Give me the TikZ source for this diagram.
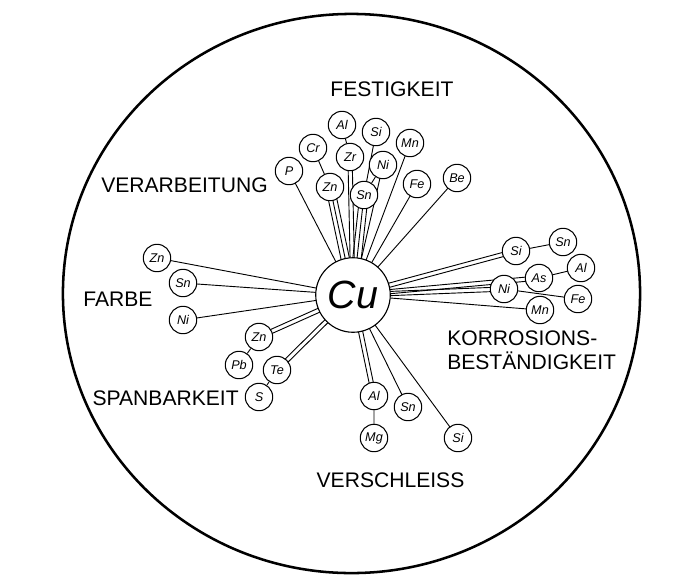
\documentclass[tikz,border=0pt]{standalone}
\usepackage{fontspec}
\setmainfont{Liberation Sans}
\usetikzlibrary{calc,backgrounds}

\begin{document}
\begin{tikzpicture}[x=0.025cm, y=-0.025cm,
		elem/.style={circle, draw, fill=white, line width=0.75pt, inner sep=0pt, minimum size=19.5pt, font=\fontsize{9}{10}\selectfont\itshape},
		kern/.style={circle, draw, fill=white, line width=0.8pt, inner sep=0pt, minimum size=53pt, font=\fontsize{28}{30}\selectfont\itshape},
		prop/.style={inner sep=0pt, font=\fontsize{15}{17}\selectfont},
		link/.style={line width=0.65pt}]
		\useasboundingbox (0,0) rectangle (700,581);
		%Circulo exterior
		\draw[line width=1.8pt] (351.5,293.5) ellipse [x radius=7.2125cm, y radius=6.9875cm];
		\node[kern] (cu) at (353,295) {Cu};
		%Festigkeit y Verarbeitung
		\node[elem] (p) at (289,171) {P};
		\node[elem] (cr) at (313,148) {Cr};
		\node[elem] (al1) at (342,125) {Al};
		\node[elem] (zr) at (350,157) {Zr};
		\node[elem] (si1) at (376,132) {Si};
		\node[elem] (ni1) at (383,165) {Ni};
		\node[elem] (mn1) at (410,143) {Mn};
		\node[elem] (zn1) at (330,187) {Zn};
		\node[elem] (sn1) at (364,195) {Sn};
		\node[elem] (fe1) at (417,184) {Fe};
		\node[elem] (be) at (457,178) {Be};
		%Korrosionsbestaendigkeit
		\node[elem] (si2) at (516,251) {Si};
		\node[elem] (sn2) at (563,242) {Sn};
		\node[elem] (as) at (539,278) {As};
		\node[elem] (al2) at (581,268) {Al};
		\node[elem] (ni2) at (504,289) {Ni};
		\node[elem] (fe2) at (578,299) {Fe};
		\node[elem] (mn2) at (540,310) {Mn};
		%Farbe y Spanbarkeit
		\node[elem] (zn2) at (157,258) {Zn};
		\node[elem] (sn3) at (183,283) {Sn};
		\node[elem] (ni3) at (183,320) {Ni};
		\node[elem] (zn3) at (259,337) {Zn};
		\node[elem] (pb) at (239,365) {Pb};
		\node[elem] (te) at (277,370) {Te};
		\node[elem] (s) at (259,397) {S};
		%Verschleiss
		\node[elem] (al3) at (374,396) {Al};
		\node[elem] (sn4) at (408,407) {Sn};
		\node[elem] (mg) at (374,438) {Mg};
		\node[elem] (si3) at (458,438) {Si};
		%Textos
		\node[prop] (festigkeit) at (392,89) {FESTIGKEIT};
		\node[prop, anchor=east] (verarbeitung) at (268,185) {VERARBEITUNG};
		\node[prop, anchor=west] (farbe) at (83,299) {FARBE};
		\node[prop, anchor=east] (spanbarkeit) at (239,398) {SPANBARKEIT};
		\node[prop, align=left, anchor=north west] (korrosion) at (447,330.5) {KORROSIONS-\\BESTÄNDIGKEIT};
		\node[prop] (verschleiss) at (390.5,480) {VERSCHLEISS};
		\begin{pgfonlayer}{background}
			\foreach \n/\offs in {p/{0}, zn1/{-3,0,3}, zr/{-1.5,1.5}, sn1/{-3,0,3}, ni1/{0}, mn1/{0}, fe1/{0}, be/{0},
				si2/{-1.5,1.5}, as/{-1.5,1.5}, ni2/{-1.5,1.5}, mn2/{0},
				zn2/{0}, sn3/{0}, ni3/{0}, zn3/{-1.5,1.5}, te/{-1.5,1.5},
				al3/{-1.5,1.5}, sn4/{0}, si3/{0}}
				\foreach \o in \offs
					\draw[link] ($(\n)!\o pt!90:(cu)$) -- ($(cu)!\o pt!-90:(\n)$);
			\draw[link] (cr) -- (zn1) (al1) -- (zr) (si1) -- (sn1) (ni1) -- (sn1);
			\draw[link] (sn2) -- (si2) (al2) -- (as) (fe2) -- (ni2);
			\draw[link] (pb) -- (zn3) (s) -- (te) (mg) -- (al3);
		\end{pgfonlayer}
	\end{tikzpicture}
\end{document}
